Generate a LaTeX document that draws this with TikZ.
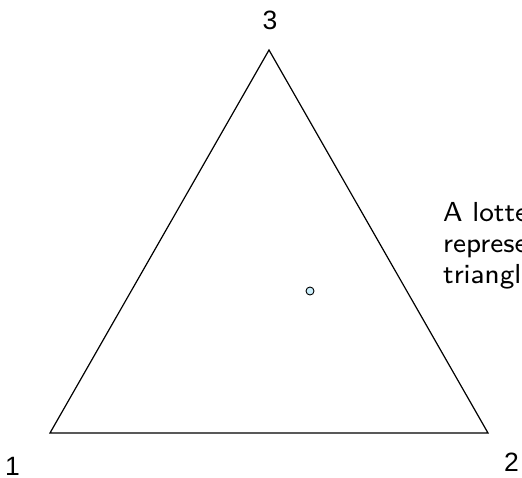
\documentclass[tikz,border=0pt]{standalone}
\usepackage{fontspec}
\newfontfamily\arialfont{Liberation Sans}
\begin{document}
\begin{tikzpicture}[x=1pt,y=-1pt,
  edge/.style={draw=black,line width=1.2pt,line join=miter},
  lab/.style={font=\arialfont\fontsize{26.5}{31}\selectfont,inner sep=0pt},
  txt/.style={font=\sffamily\fontsize{8}{10}\selectfont,inner sep=0pt,anchor=base west},
  lot/.style={circle,draw=black,fill=cyan!20!white,line width=0.9pt,minimum size=8pt,inner sep=0pt}]
\useasboundingbox (0,0) rectangle (522,477);
\clip (0,0) rectangle (522,477);
\coordinate (v1) at (50,433);
\coordinate (v2) at (488,433);
\coordinate (v3) at (269,50);
\draw[edge] (v1) -- (v2) -- (v3) -- cycle;
\node[lab] (l3) at (270,20) {3};
\node[lab] (l1) at (12.5,466) {1};
\node[lab] (l2) at (511.5,462) {2};
\node[lot] (p) at (310,291) {};
\node[txt] (t1) at (443,221) {\scalebox{3.4375}{A lottery}};
\node[txt] (t2) at (443,252) {\scalebox{3.4375}{represented}};
\node[txt] (t3) at (443,283) {\scalebox{3.4375}{triangle}};
\end{tikzpicture}
\end{document}
